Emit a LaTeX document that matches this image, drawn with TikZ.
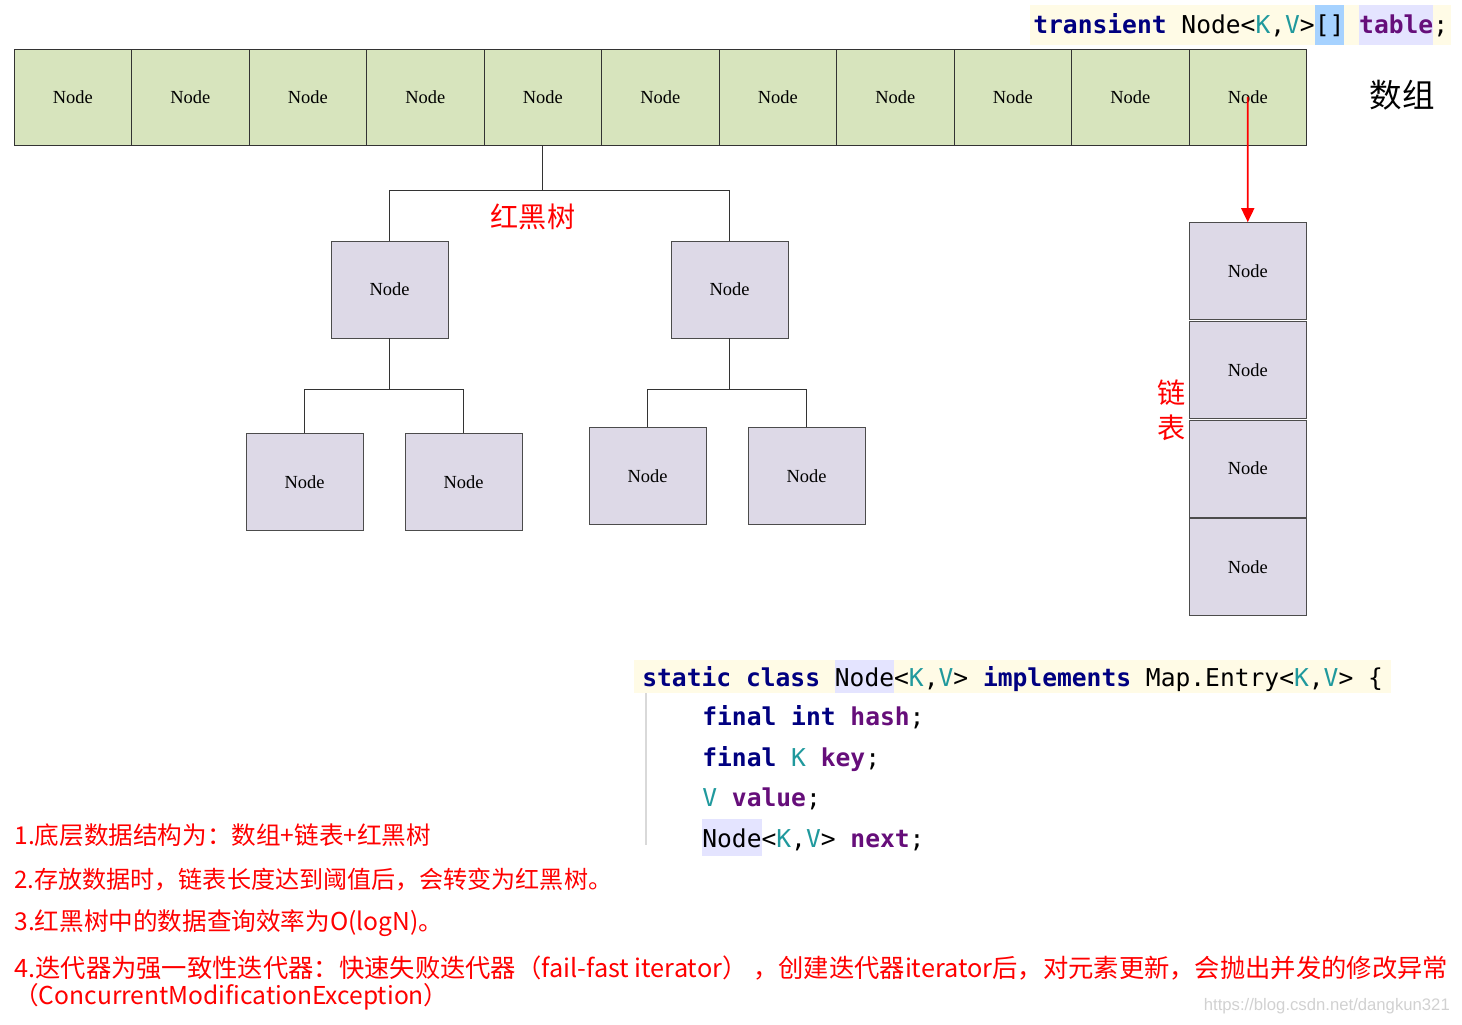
\documentclass[tikz,border=0pt]{standalone}
\usepackage{fontspec}
\setmainfont{Liberation Serif}
\setmonofont{DejaVu Sans Mono}
\newfontfamily\cjk{Noto Sans CJK SC}
\newfontfamily\wmfont{Liberation Sans}
\usetikzlibrary{positioning,arrows.meta}

\definecolor{cellgreen}{HTML}{D7E4BD}
\definecolor{cellpurple}{HTML}{DDD9E7}
\definecolor{kwblue}{HTML}{000080}
\definecolor{tpteal}{HTML}{20999D}
\definecolor{fldpurple}{HTML}{660E7A}
\definecolor{codebg}{HTML}{FFFBE6}
\definecolor{hlblue}{HTML}{A6D2FF}
\definecolor{hllav}{HTML}{E4E4FF}

\newcommand{\codestrutA}{\rule[-6.2pt]{0pt}{22.6pt}}
\newcommand{\codestrutB}{\rule[-4pt]{0pt}{18.7pt}}
\newcommand{\hlbox}[3]{{\setlength{\fboxsep}{0pt}\colorbox{#1}{#2#3}}}
\newcommand{\kw}[1]{\textcolor{kwblue}{\bfseries #1}}
\newcommand{\fld}[1]{\textcolor{fldpurple}{\bfseries #1}}
\newcommand{\tp}[1]{\textcolor{tpteal}{#1}}

\tikzset{
  cell/.style={draw=black!80,fill=cellgreen,minimum width=2.35cm,minimum height=1.92cm,inner sep=0pt,font=\fontsize{10.5}{12}\selectfont},
  tnode/.style={draw=black!70,fill=cellpurple,minimum width=2.34cm,minimum height=1.94cm,inner sep=0pt,font=\fontsize{10.5}{12}\selectfont},
  link/.style={draw=black!80,line width=0.6pt},
  redlabel/.style={text=red,font=\cjk\fontsize{16}{19.8}\selectfont},
  note/.style={anchor=west,inner sep=0pt,text=red,font=\cjk\fontsize{14}{17}\selectfont},
  codeline/.style={anchor=base west,inner xsep=0.06cm,inner ysep=0pt,font=\ttfamily\fontsize{14}{17}\selectfont},
}

\begin{document}
\begin{tikzpicture}
    \useasboundingbox (0,0) rectangle (29.24,-20.5);
    %% array
    \foreach \i in {1,...,11}
        \node[cell] (a\i) at ({0.28+2.35*(\i-0.5)},-1.94) {Node};
    \node[font=\cjk\fontsize{18.5}{22}\selectfont] (arr) at (28.04,-1.9) {数组};
    %% code: table
    \node[codeline,fill=codebg] (tbl) at (20.6,-0.68) {\codestrutA\kw{transient} Node<\tp{K},\tp{V}>\hlbox{hlblue}{\codestrutA}{[]} \hlbox{hllav}{\codestrutA}{\fld{table}};};
    %% tree
    \node[tnode] (t1) at (7.79,-5.79) {Node};
    \node[tnode] (t2) at (14.59,-5.79) {Node};
    \node[tnode] (t3) at (6.09,-9.64) {Node};
    \node[tnode] (t4) at (9.27,-9.64) {Node};
    \node[tnode] (t5) at (12.95,-9.52) {Node};
    \node[tnode] (t6) at (16.13,-9.52) {Node};
    \draw[link] (a5.south) -- ++(0,-0.9) -| (t1.north);
    \draw[link] (a5.south) -- ++(0,-0.9) -| (t2.north);
    \draw[link] (t1.south) -- ++(0,-1.02) -| (t3.north);
    \draw[link] (t1.south) -- ++(0,-1.02) -| (t4.north);
    \draw[link] (t2.south) -- ++(0,-1.02) -| (t5.north);
    \draw[link] (t2.south) -- ++(0,-1.02) -| (t6.north);
    \node[redlabel] (rb) at (10.66,-4.34) {红黑树};
    %% list
    \node[tnode] (l1) at (24.955,-5.42) {Node};
    \node[tnode,below=0.02cm of l1] (l2) {Node};
    \node[tnode,below=0.02cm of l2] (l3) {Node};
    \node[tnode,below=0.02cm of l3] (l4) {Node};
    \draw[red,line width=1pt,-{Triangle[length=0.28cm,width=0.26cm]}] (a11.center) -- (l1.north);
    \node[redlabel,align=center] (lst) at (23.44,-8.21) {链\\表};
    %% code: Node class
    \node[codeline,inner xsep=0.16cm,fill=codebg] (cls) at (12.68,-13.72) {\codestrutB\kw{static class} \hlbox{hllav}{\codestrutB}{Node}<\tp{K},\tp{V}> \kw{implements} Map.Entry<\tp{K},\tp{V}> \{};
    \node[codeline,inner xsep=0pt] (c2) at (14.04,-14.5) {\kw{final int} \fld{hash};};
    \node[codeline,inner xsep=0pt] (c3) at (14.04,-15.32) {\kw{final} \tp{K} \fld{key};};
    \node[codeline,inner xsep=0pt] (c4) at (14.04,-16.12) {\tp{V} \fld{value};};
    \node[codeline,inner xsep=0pt] (c5) at (14.04,-16.94) {\hlbox{hllav}{\rule[-5pt]{0pt}{21pt}}{Node}<\tp{K},\tp{V}> \fld{next};};
    \draw[black!15,line width=0.6pt] ([xshift=0.24cm]cls.south west) -- ++(0,-3.04);
    %% notes
    \node[note] (n1) at (0.28,-16.7) {1.底层数据结构为：数组+链表+红黑树};
    \node[note,font=\cjk\fontsize{13.7}{17}\selectfont] (n2) at (0.28,-17.6) {2.存放数据时，链表长度达到阈值后，会转变为红黑树。};
    \node[note] (n3) at (0.28,-18.46) {3.红黑树中的数据查询效率为O(logN)。};
    \node[note,font=\cjk\fontsize{14.4}{17}\selectfont] (n4) at (0.28,-19.36) {4.迭代器为强一致性迭代器：快速失败迭代器（fail-fast iterator） ，创建迭代器iterator后，对元素更新，会抛出并发的修改异常};
    \node[note] (n5) at (0.28,-19.94) {（ConcurrentModificationException）};
    \node[anchor=east,text=black!18,font=\wmfont\fontsize{9.5}{11}\selectfont] (wm) at (29.12,-20.12) {https://blog.csdn.net/dangkun321};
\end{tikzpicture}
\end{document}
